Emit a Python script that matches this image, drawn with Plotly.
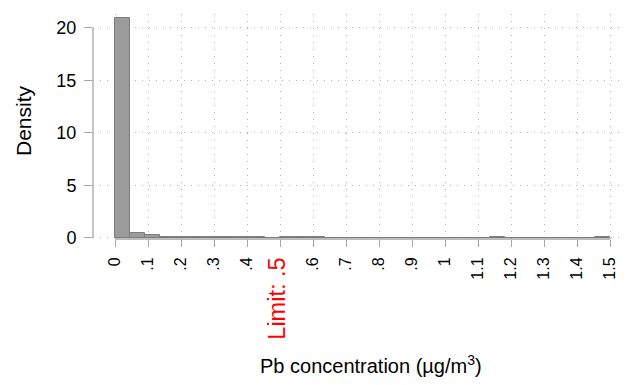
import plotly.graph_objects as go

# Histogram data (density per bin), 33 bins over 0..1.5
n_bins = 33
x_min, x_max = 0.0, 1.5
density = [20.9, 0.45, 0.3, 0.1, 0.08, 0.08, 0.07, 0.07, 0.08, 0.06,
           0.0, 0.07, 0.07, 0.07, 0.0, 0.0, 0.0, 0.0, 0.0, 0.0,
           0.0, 0.0, 0.0, 0.0, 0.0, 0.07, 0.0, 0.0, 0.0, 0.0,
           0.0, 0.0, 0.07]

x_tickvals = [0, 0.1, 0.2, 0.3, 0.4, 0.5, 0.6, 0.7, 0.8, 0.9, 1.0, 1.1, 1.2, 1.3, 1.4, 1.5]
x_ticklabels = ["0", ".1", ".2", ".3", ".4", "Limit: .5", ".6", ".7", ".8", ".9",
                "1", "1.1", "1.2", "1.3", "1.4", "1.5"]
limit_value = 0.5
y_tickvals = [0, 5, 10, 15, 20]

bin_w = (x_max - x_min) / n_bins
centers = [x_min + (i + 0.5) * bin_w for i in range(n_bins)]

ticktext = []
for v, t in zip(x_tickvals, x_ticklabels):
    if abs(v - limit_value) < 1e-9:
        ticktext.append('<span style="color:#ff0000;font-size:23.5px">' + t + '</span>')
    else:
        ticktext.append(t)

FONT = "Liberation Sans, Arial, sans-serif"
AX = "#a6a6a6"
GRID = "#b4b4b4"

fig = go.Figure()
fig.add_trace(go.Bar(
    x=centers, y=density, width=bin_w,
    marker=dict(color="#9b9b9b", line=dict(color="#7c7c7c", width=1)),
    hoverinfo="x+y",
))

fig.update_layout(
    width=637, height=385,
    margin=dict(l=93, r=15, t=14, b=146),
    plot_bgcolor="white", paper_bgcolor="white",
    showlegend=False,
    bargap=0,
    font=dict(family=FONT, color="black"),
    xaxis=dict(
        range=[-0.0667, 1.536],
        tickmode="array", tickvals=x_tickvals, ticktext=ticktext,
        tickangle=-90,
        tickfont=dict(size=16, family=FONT, color="black"),
        ticks="outside", ticklen=7, tickcolor=AX, tickwidth=1,
        showline=False, zeroline=False,
        showgrid=True, gridcolor=GRID, griddash="1px,6px", gridwidth=1,
        ticklabelstandoff=4,
    ),
    yaxis=dict(
        range=[-0.1, 21.3],
        tickmode="array", tickvals=y_tickvals,
        tickfont=dict(size=18, family=FONT, color="black"),
        ticks="outside", ticklen=8, tickcolor=AX, tickwidth=1,
        showline=False, zeroline=False,
        showgrid=True, gridcolor=GRID, griddash="1px,6px", gridwidth=1,
        ticklabelstandoff=4,
    ),
    shapes=[
        dict(type="line", xref="paper", yref="y", x0=0, x1=0, y0=0, y1=20,
             line=dict(color=AX, width=1.3)),
        dict(type="line", xref="x", yref="paper", x0=0, x1=1.5, y0=0, y1=0,
             line=dict(color=AX, width=1.3)),
    ],
    annotations=[
        dict(text="Density", textangle=-90, xref="paper", yref="paper",
             x=(24 - 93) / 529, y=(239 - 121) / 225, xanchor="center", yanchor="middle",
             showarrow=False, font=dict(size=21, family=FONT, color="black")),
        dict(text="Pb concentration (\u00b5g/m<sup>3</sup>)", xref="x", yref="paper",
             x=0.775, y=-(364 - 239) / 225, xanchor="center", yanchor="middle",
             showarrow=False, font=dict(size=20, family=FONT, color="black")),
    ],
)

fig.write_html("out.html", config={"displayModeBar": False},
               post_script="document.body.style.margin='0';")
